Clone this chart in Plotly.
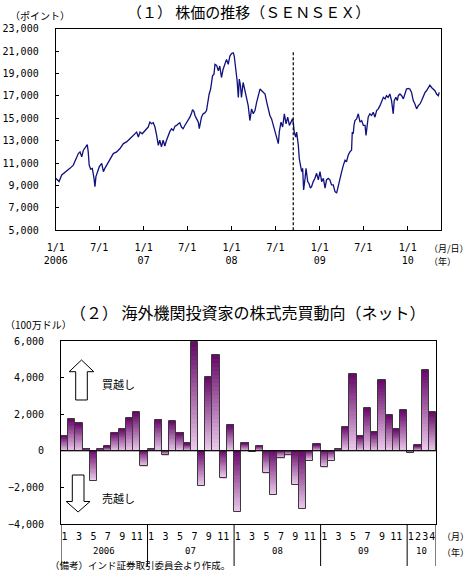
import pandas as pd
import plotly.graph_objects as go

W, H = 470, 587

# ---------------- (1) SENSEX daily-ish series ----------------
sensex_day = [0, 7, 14, 25, 35, 45, 59, 73, 87, 94, 101, 108, 115, 128, 131, 135, 139, 145, 152, 159,
              163, 167, 174, 181, 191, 198, 204, 211, 225, 239, 253, 267, 281, 294, 308, 322, 336, 343,
              350, 359, 370, 384, 391, 398, 405, 412, 419, 426, 432, 439, 446, 453, 460, 467, 474, 481,
              488, 495, 502, 509, 515, 522, 529, 536, 543, 550, 557, 564, 568, 574, 578, 585, 592, 596,
              601, 605, 612, 619, 626, 630, 637, 643, 647, 651, 657, 661, 668, 675, 681, 688, 695, 702,
              709, 716, 723, 730, 737, 741, 748, 753, 758, 762, 767, 771, 778, 785, 793, 799, 806, 813,
              820, 827, 834, 841, 848, 855, 862, 869, 876, 882, 889, 896, 903, 910, 917, 924, 928, 935,
              942, 949, 956, 963, 970, 977, 983, 986, 990, 996, 1000, 1007, 1011, 1017, 1021, 1025, 1029,
              1035, 1039, 1046, 1051, 1057, 1062, 1069, 1076, 1083, 1090, 1097, 1104, 1111, 1118, 1124,
              1131, 1138, 1145, 1152, 1159, 1166, 1173, 1180, 1187, 1194, 1201, 1207, 1214, 1221, 1228,
              1231, 1235, 1238, 1242, 1249, 1256, 1263, 1270, 1277, 1284, 1288, 1293, 1297, 1304, 1311,
              1318, 1325, 1332, 1339, 1346, 1353, 1360, 1367, 1373, 1380, 1387, 1394, 1401, 1405, 1412,
              1418, 1422, 1429, 1436, 1443, 1450, 1456, 1463, 1470, 1477, 1484, 1491, 1498, 1505, 1512,
              1519, 1526, 1533, 1539, 1546, 1553, 1560, 1567, 1574, 1581, 1588, 1592]
sensex_value = [9640, 9500, 9350, 9940, 10100, 10230, 10530, 10820, 11560, 11850, 12000, 11560, 12150,
                12590, 12650, 12000, 10820, 10470, 10530, 9640, 8900, 9790, 10230, 10680, 10970, 10230,
                10530, 10820, 11410, 11850, 12000, 12300, 12740, 12890, 13180, 13480, 13770, 13330,
                13770, 13620, 13920, 14220, 14660, 14510, 14600, 14220, 13480, 12590, 13040, 12450,
                13040, 12530, 13040, 13480, 13830, 14070, 13920, 14300, 14360, 14510, 14600, 14220,
                14070, 14360, 14600, 14800, 15100, 15480, 15780, 15600, 15250, 14950, 14660, 14070,
                14660, 15100, 15400, 15480, 15690, 16280, 17170, 17610, 18500, 18790, 18940, 19820,
                19730, 19230, 19670, 18640, 19380, 19820, 20260, 19820, 20560, 20790, 20850, 20560,
                19380, 18350, 16870, 18500, 17900, 16870, 18200, 17460, 16870, 16130, 14800, 15840,
                15400, 15690, 16430, 17020, 17610, 17460, 17310, 17170, 16430, 15840, 15250, 14950,
                14360, 13770, 13180, 12740, 13770, 14660, 14220, 15400, 14510, 15100, 14360, 14660,
                14950, 14660, 13770, 13330, 13770, 12590, 11410, 10680, 10230, 10530, 8610, 9640,
                10530, 9350, 9200, 8760, 8900, 9350, 9640, 10090, 9500, 10230, 9350, 9640, 8760, 9500,
                9640, 9500, 9050, 9050, 8470, 8320, 9050, 9500, 10230, 10820, 11260, 11120, 11700,
                12000, 12150, 13770, 13620, 14360, 14800, 14950, 15400, 14660, 14800, 14360, 14360,
                13480, 14660, 15100, 15400, 15250, 15540, 15100, 15690, 15840, 16130, 16580, 16870,
                16730, 17020, 16870, 17170, 16580, 15400, 16580, 16870, 16580, 17020, 17170, 17020,
                16730, 17310, 17610, 17670, 17610, 17310, 16580, 16280, 15840, 16130, 16280, 16580,
                17020, 17310, 17460, 17750, 17960, 17750, 17610, 17460, 17170, 17020, 17310]
start_date = "2006-01-01"
x_end_date = "2010-05-18"
lehman_date = "2008-09-13"
top_tick_dates = ["2006-01-01", "2006-07-01", "2007-01-01", "2007-07-01", "2008-01-01",
                  "2008-07-01", "2009-01-01", "2009-07-01", "2010-01-01"]
top_tick_text = ["1/1<br>2006", "7/1", "1/1<br>07", "7/1", "1/1<br>08", "7/1", "1/1<br>09", "7/1", "1/1<br>10"]
top_y_ticks = [5000, 7000, 9000, 11000, 13000, 15000, 17000, 19000, 21000, 23000]

# ---------------- (2) Foreign institutional investors net flows ----------------
flow_2006 = [830, 1750, 1520, 120, -1650, 120, 240, 990, 1210, 1800, 2120, -850]
flow_2007 = [120, 1700, -250, 1640, 980, 400, 5940, -1930, 4060, 5240, -1500, 1415]
flow_2008 = [-3360, 435, -65, 278, -1230, -2420, -415, -250, -1875, -3200, -535, 352]
flow_2009 = [-900, -545, 120, 1325, 4200, 820, 2340, 1045, 3860, 1950, 1200, 2235]
flow_2010 = [-100, 295, 4420, 2120]
year_labels = ["2006", "07", "08", "09", "10"]
bottom_y_ticks = [-4000, -2000, 0, 2000, 4000, 6000]

flows_by_year = [flow_2006, flow_2007, flow_2008, flow_2009, flow_2010]
flows = [v for yr in flows_by_year for v in yr]
bar_month = [m + 1 for yr in flows_by_year for m in range(len(yr))]
bar_year_idx = [i for i, yr in enumerate(flows_by_year) for _ in yr]
bar_x = list(range(len(flows)))

dates = pd.Timestamp(start_date) + pd.to_timedelta(sensex_day, unit="D")


def px(x):
    return x / W


def py(y):
    return 1 - y / H


JP = "Noto Sans CJK JP"
MONO = "DejaVu Sans Mono"

fig = go.Figure()

# top line
fig.add_trace(go.Scatter(x=dates, y=sensex_value, mode="lines",
                         line=dict(color="#10107f", width=1.3), xaxis="x", yaxis="y",
                         hoverinfo="skip"))

# gradient bars (stacked slices)
N = 24
dark = (0x6a, 0x0a, 0x6c)
light = (0xea, 0xc8, 0xea)


def mix(t):
    c = [round(light[i] + (dark[i] - light[i]) * t) for i in range(3)]
    return f"rgb({c[0]},{c[1]},{c[2]})"


for k in range(N):
    t = k / (N - 1)
    cols = [mix(t) if v >= 0 else mix(1 - t) for v in flows]
    fig.add_trace(go.Bar(x=bar_x, y=[v / N for v in flows], marker=dict(color=cols, line=dict(width=0)),
                         width=1.0, xaxis="x2", yaxis="y2", hoverinfo="skip"))

# outline bars on overlay axes
fig.add_trace(go.Bar(x=bar_x, y=flows, width=1.0,
                     marker=dict(color="rgba(0,0,0,0)", line=dict(color="#3a3a3a", width=1)),
                     xaxis="x3", yaxis="y3", hoverinfo="skip"))

top_dom_x = [px(55.7), px(440.7)]
top_dom_y = [py(230.3), py(28.7)]
bot_dom_x = [px(61), px(436)]
bot_dom_y = [py(524), py(341)]

axis_common = dict(showline=True, linecolor="black", linewidth=1, mirror=True, showgrid=False,
                   zeroline=False, automargin=False,
                   tickfont=dict(family=MONO, size=10, color="black"))

show_month = [(m % 2 == 1) or (yi == len(flows_by_year) - 1) for m, yi in zip(bar_month, bar_year_idx)]
month_tickvals = [x for x, s in zip(bar_x, show_month) if s]
month_ticktext = [str(m) for m, s in zip(bar_month, show_month) if s]

fig.update_layout(
    width=W, height=H, margin=dict(l=0, r=0, t=0, b=0, autoexpand=False),
    paper_bgcolor="white", plot_bgcolor="white", showlegend=False,
    barmode="relative", bargap=0,
    xaxis=dict(**axis_common, domain=top_dom_x, anchor="y", type="date",
               range=[start_date, x_end_date], tickvals=top_tick_dates, ticktext=top_tick_text,
               ticks="inside", ticklen=4, tickcolor="black", ticklabelstandoff=8, tickangle=0),
    yaxis=dict(**axis_common, domain=top_dom_y, anchor="x", range=[5000, 23000],
               tickvals=top_y_ticks, tickformat=",d", ticks="inside", ticklen=3,
               tickcolor="black", ticklabelstandoff=14),
    xaxis2=dict(**axis_common, domain=bot_dom_x, anchor="y2", range=[-0.5, len(flows) - 0.5],
                tickvals=month_tickvals, ticktext=month_ticktext, ticks="", ticklabelstandoff=3,
                tickangle=0),
    yaxis2=dict(**axis_common, domain=bot_dom_y, anchor="x2", range=[-4000, 6000],
                tickvals=bottom_y_ticks, tickformat=",d", ticks="inside", ticklen=3,
                tickcolor="black", ticklabelstandoff=14),
    xaxis3=dict(overlaying="x2", anchor="y3", range=[-0.5, len(flows) - 0.5], visible=False),
    yaxis3=dict(overlaying="y2", anchor="x3", range=[-4000, 6000], visible=False),
)

shapes = []
# Lehman dashed line
shapes.append(dict(type="line", xref="x", yref="y", x0=lehman_date, x1=lehman_date, y0=5000, y1=21000,
                   line=dict(color="black", width=1.2, dash="3px,2px")))
# zero line on bar chart
shapes.append(dict(type="line", xref="x3 domain", yref="y3", x0=0, x1=1, y0=0, y1=0,
                   line=dict(color="black", width=1)))
# year separators below bar chart
bounds = [-0.5]
for yr in flows_by_year:
    bounds.append(bounds[-1] + len(yr))
for b in bounds:
    shapes.append(dict(type="line", xref="x2", yref="paper", x0=b, x1=b, y0=py(524), y1=py(566),
                       line=dict(color="black", width=1)))


def arrow_path(points):
    return "M " + " L ".join(f"{px(a):.5f},{py(b):.5f}" for a, b in points) + " Z"


up_arrow = [(81.5, 360), (93.8, 371.7), (87.3, 371.7), (87.3, 400), (75.7, 400), (75.7, 371.7), (69.2, 371.7)]
down_arrow = [(72.3, 475), (84, 475), (84, 501.5), (90, 501.5), (78.1, 512), (66.2, 501.5), (72.3, 501.5)]
for pts in (up_arrow, down_arrow):
    shapes.append(dict(type="path", xref="paper", yref="paper", path=arrow_path(pts),
                       fillcolor="white", line=dict(color="black", width=1)))
fig.update_layout(shapes=shapes)

ann = []


def text(x, y, s, size=10, xanchor="left", family=JP):
    ann.append(dict(x=px(x), y=py(y), xref="paper", yref="paper", text=s, showarrow=False,
                    xanchor=xanchor, yanchor="middle", font=dict(family=family, size=size, color="black")))


text(248, 11, "（１） 株価の推移（ＳＥＮＳＥＸ）", size=15, xanchor="center")
text(8, 15, "（ポイント）", size=10)
text(427, 248, "（月/日）", size=9)
text(427, 261, "（年）", size=9)

text(248, 312, "（２） 海外機関投資家の株式売買動向（ネット）", size=16, xanchor="center")
text(3, 324, "（100万ドル）", size=10)
text(100, 384, "買越し", size=11)
text(100, 498, "売越し", size=11)
text(440, 536, "（月）", size=9)
text(440, 552, "（年）", size=9)
text(48, 564.5, "（備考）インド証券取引委員会より作成。", size=9.5)

for i, lab in enumerate(year_labels):
    mid = (bounds[i] + bounds[i + 1]) / 2
    ann.append(dict(x=mid, y=py(550.5), xref="x2", yref="paper", text=lab, showarrow=False,
                    xanchor="center", yanchor="middle", font=dict(family=MONO, size=9, color="black")))

fig.update_layout(annotations=ann)
fig.write_html("out.html", config={"displayModeBar": False},
               post_script="document.body.style.margin='0';document.body.style.overflow='hidden';")
